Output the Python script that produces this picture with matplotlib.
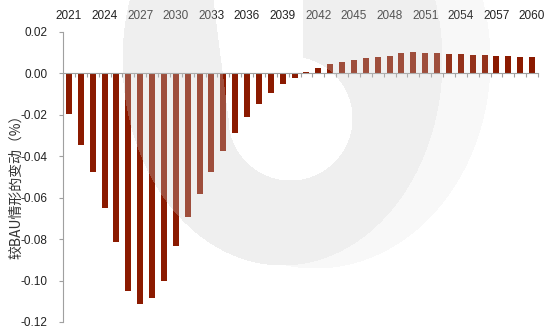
import numpy as np
import matplotlib
matplotlib.use('Agg')
import matplotlib.pyplot as plt
from matplotlib.ticker import FixedLocator, FuncFormatter

plt.rcParams['font.family'] = ['Liberation Sans Narrow', 'Liberation Sans', 'Noto Sans CJK SC', 'DejaVu Sans']

years = list(range(2021, 2061))
values = [-0.0194, -0.0344, -0.0476, -0.0650, -0.0815, -0.1048, -0.1115, -0.1085,
          -0.1004, -0.0831, -0.0694, -0.0581, -0.0475, -0.0376, -0.0288, -0.0212,
          -0.0150, -0.0095, -0.0053, -0.0020,
          0.0008, 0.0027, 0.0044, 0.0056, 0.0066, 0.0075, 0.0080, 0.0084,
          0.0098, 0.0102, 0.0100, 0.0098, 0.0095, 0.0093, 0.0090, 0.0087,
          0.0085, 0.0084, 0.0080, 0.0079]
label_years = list(range(2021, 2061, 3))
yticks = [-0.12, -0.10, -0.08, -0.06, -0.04, -0.02, 0.00, 0.02]
ylabel = '较BAU情形的变动（%）'

W, H = 544, 329
fig = plt.figure(figsize=(W / 100, H / 100), dpi=100)
ax = fig.add_axes([63 / W, (H - 322) / H, (538 - 63) / W, (322 - 32) / H])

x = np.arange(len(years))
ax.bar(x, values, width=0.5, color='#8B1A00', zorder=2)

ax.set_xlim(-0.5, len(years) - 0.5)
ax.set_ylim(-0.12, 0.02)

for s in ['top', 'right']:
    ax.spines[s].set_visible(False)
ax.spines['bottom'].set_position(('data', 0))
ax.spines['bottom'].set_color('#a0a0a0')
ax.spines['left'].set_color('#a0a0a0')

ax.xaxis.set_major_locator(FixedLocator(np.arange(-0.5, len(years), 1.0)))
ax.tick_params(axis='x', direction='out', length=3, color='#a0a0a0', labelbottom=False)
ax.set_yticks(yticks)
ax.yaxis.set_major_formatter(FuncFormatter(lambda v, p: '%.2f' % v if abs(v) > 1e-9 else '0.00'))
ax.tick_params(axis='y', direction='out', length=3, color='#a0a0a0',
               labelsize=8.5, labelcolor='#222222', pad=8)

top = ax.secondary_xaxis('top')
top.set_xticks([years.index(y) for y in label_years])
top.set_xticklabels([str(y) for y in label_years])
top.tick_params(length=0, labelsize=8.5, labelcolor='#222222', pad=7)
top.spines['top'].set_visible(False)

fig.text(16 / W, 1 - 183 / H, ylabel, rotation=90, ha='center', va='center',
         fontsize=10, color='#333333',
         family=['Noto Sans CJK SC', 'DejaVu Sans'])

# faint logo watermark on top of everything
yy, xx = np.mgrid[0:H, 0:W]
dark = ((xx - 282) / 160.0) ** 2 + ((yy - 60) / 205.0) ** 2 < 1
light = ((xx - 315) / 175.0) ** 2 + ((yy - 60) / 208.0) ** 2 < 1
hole = (xx - 290) ** 2 + (yy - 118) ** 2 < 62 ** 2
slot = (yy < 118) & (xx < 303) & (xx > 213 + yy / 118.0 * 15)
cut = hole | slot
alpha = np.where(dark & ~cut, 0.30, np.where(light & ~cut, 0.13, 0.0))
wm = np.zeros((H, W, 4))
wm[..., :3] = 204 / 255.0
wm[..., 3] = alpha
fig.figimage(wm, xo=0, yo=0, origin='upper', zorder=10)

fig.savefig('out.png', dpi=100)
